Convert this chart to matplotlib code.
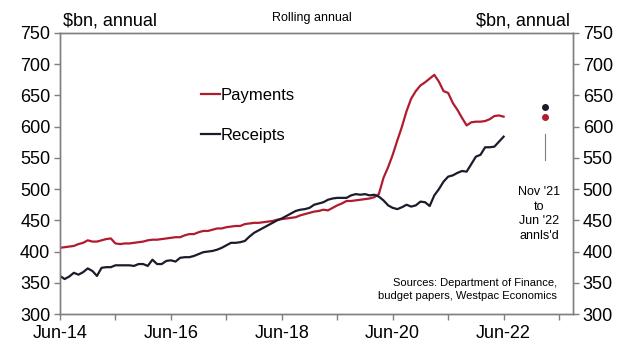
import numpy as np
import matplotlib
matplotlib.use("Agg")
import matplotlib.pyplot as plt

plt.rcParams['font.family'] = ['Liberation Sans', 'DejaVu Sans']

# monthly, Jun-14 .. Jun-22, $bn rolling annual
payments = [406, 407, 408, 409, 412, 414, 418, 416, 416, 418, 420, 421,
            413, 412, 413, 413, 414, 415, 416, 418, 419, 419, 420, 421,
            422, 423, 423, 426, 428, 428, 431, 433, 433, 435, 437, 437,
            439, 440, 441, 441, 444, 445, 446, 446, 447, 448, 449, 451,
            452, 453, 454, 455, 458, 460, 462, 464, 465, 467, 466, 470,
            474, 477, 481, 481, 482, 483, 484, 485, 487, 492, 518, 535,
            555, 578, 600, 625, 645, 657, 666, 671, 677, 683, 672, 657,
            654, 638, 627, 614, 602, 607, 608, 608, 609, 612, 617, 618,
            616]
receipts = [361, 356, 360, 366, 363, 367, 373, 369, 361, 374, 375, 375,
            378, 378, 378, 378, 377, 380, 380, 377, 387, 380, 380, 385,
            386, 384, 390, 391, 391, 393, 396, 399, 400, 401, 403, 406,
            410, 414, 414, 415, 417, 424, 430, 434, 438, 442, 446, 450,
            453, 457, 461, 465, 467, 468, 470, 475, 477, 479, 483, 485,
            486, 486, 486, 490, 492, 491, 492, 490, 491, 488, 482, 474,
            470, 468, 471, 475, 472, 474, 480, 479, 473, 490, 500, 512,
            520, 522, 526, 529, 528, 540, 552, 555, 567, 567, 568, 576,
            584]
months = np.arange(len(payments))

# Nov '21 to Jun '22 annualised
annl_receipts = 632
annl_payments = 615
annl_pos = 105

xtick_labels = ['Jun-14', '', 'Jun-16', '', 'Jun-18', '', 'Jun-20', '', 'Jun-22', '']
yticks = [300, 350, 400, 450, 500, 550, 600, 650, 700, 750]

red = '#B01C2E'
navy = '#1C1B2B'
grey = '#7F7F7F'

fig = plt.figure(figsize=(6.21, 3.43), dpi=100)
ax = fig.add_axes([0.0966, 0.0845, 0.826, 0.8193])

ax.plot(months, payments, color=red, lw=1.6, label='Payments')
ax.plot(months, receipts, color=navy, lw=1.6, label='Receipts')
ax.plot([annl_pos], [annl_receipts], 'o', color=navy, ms=4)
ax.plot([annl_pos], [annl_payments], 'o', color=red, ms=4)
ax.plot([annl_pos, annl_pos], [547, 588], color=grey, lw=0.8)

ax.set_xlim(0, 111)
ax.set_ylim(300, 750)
ax.set_xticks(np.arange(0, 120, 12))
ax.set_xticklabels(xtick_labels, fontsize=13)
ax.set_yticks(yticks)
ax.tick_params(axis='y', labelsize=13, length=4, width=1, color=grey, pad=3)
ax.tick_params(axis='x', length=4, width=1, color=grey, pad=4)

ax2 = ax.twinx()
ax2.set_ylim(300, 750)
ax2.set_yticks(yticks)
ax2.tick_params(axis='y', labelsize=13, length=4, width=1, color=grey, pad=3)

for a in (ax, ax2):
    for s in a.spines.values():
        s.set_color(grey)
        s.set_linewidth(1.0)

fig.text(0.101, 0.925, '$bn, annual', fontsize=13, ha='left', va='baseline')
fig.text(0.918, 0.925, '$bn, annual', fontsize=13, ha='right', va='baseline')
fig.text(0.502, 0.938, 'Rolling annual', fontsize=9, ha='center', va='baseline')

leg = ax.legend(loc='upper left', bbox_to_anchor=(0.245, 0.857), frameon=False,
                fontsize=12, handlelength=1.15, handletextpad=0.05,
                labelspacing=1.5)

ax.text(annl_pos - 1.3, 505, "Nov '21\nto\nJun '22\nannls'd", fontsize=9,
        ha='center', va='top', linespacing=1.3)
ax.text(107.5, 357, 'Sources: Department of Finance,\nbudget papers, Westpac Economics',
        fontsize=8, ha='right', va='top', linespacing=1.3)

fig.savefig('out.png', dpi=100)
